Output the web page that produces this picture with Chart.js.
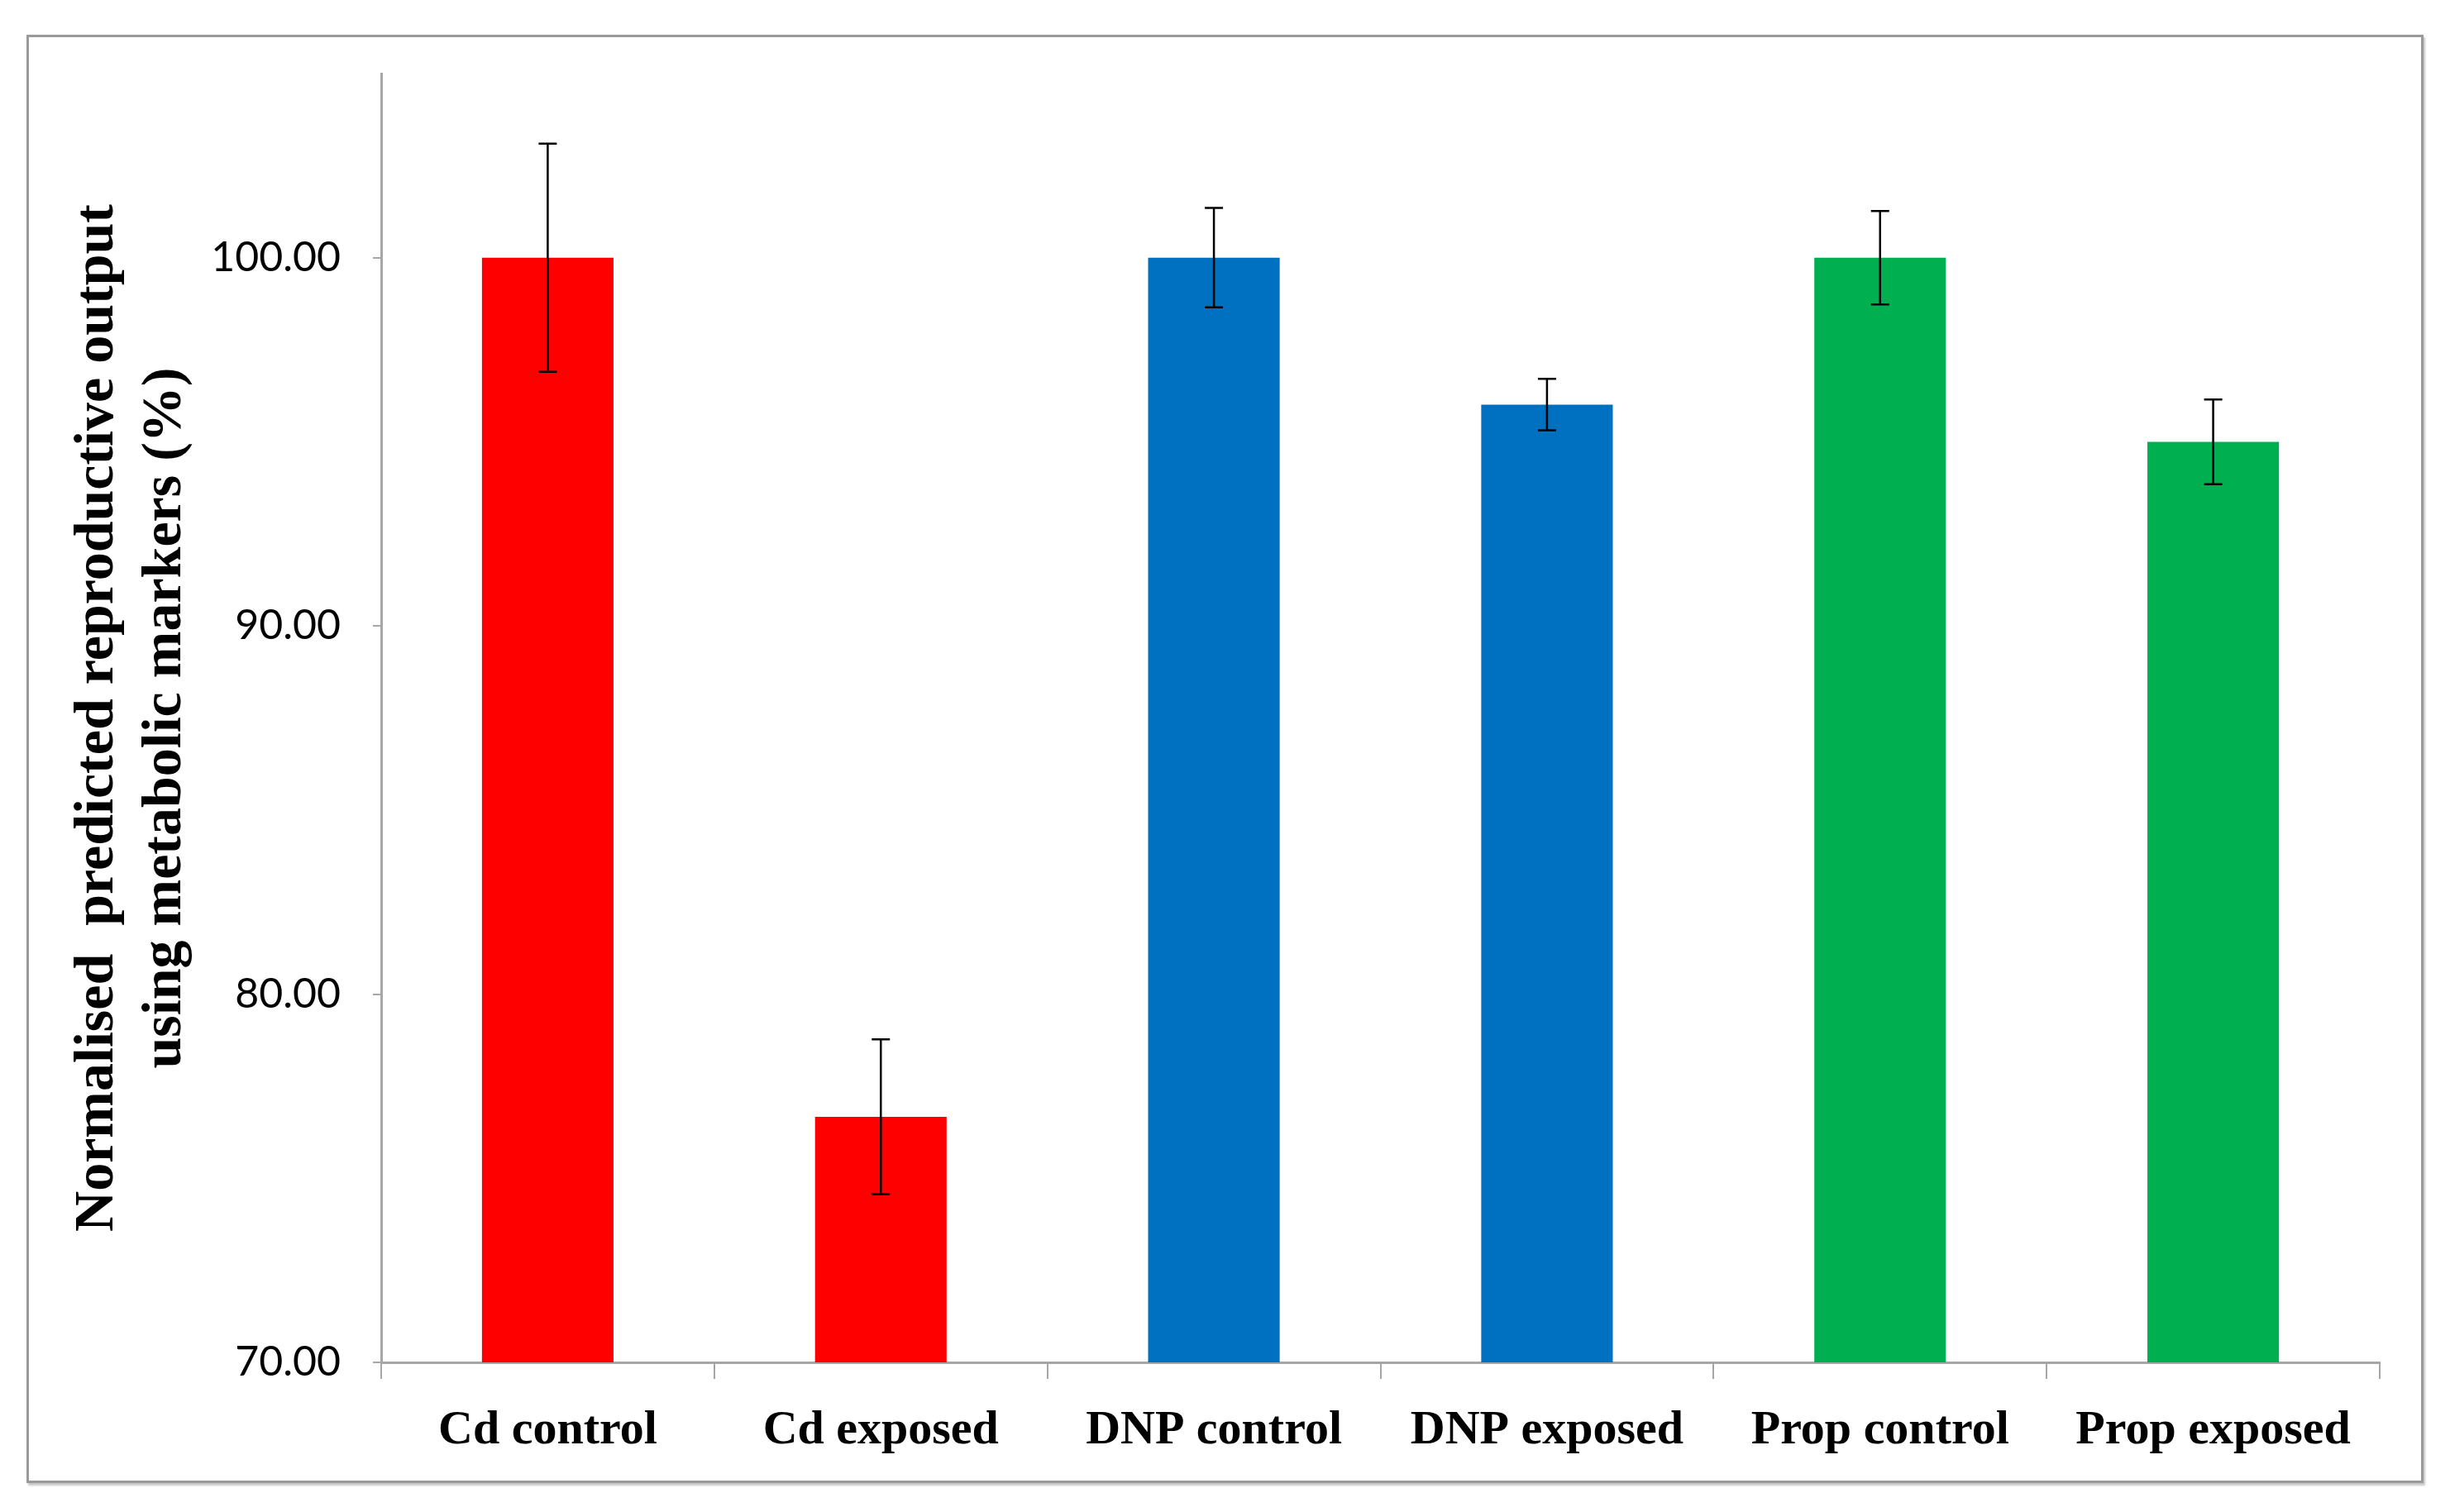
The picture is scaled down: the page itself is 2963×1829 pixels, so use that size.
<!DOCTYPE html>
<html>
<head>
    <title>Normalised predicted reproductive output</title>
    <script src="https://cdn.jsdelivr.net/npm/chart.js"></script>
    <style>
        body { margin: 0; background: #fff; }
        #moldura {
            position: absolute; left: 32px; top: 42px; width: 2899px; height: 1752px;
            box-sizing: border-box; border: 3px solid #9a9a9a;
            box-shadow: 2px 3px 2px #c8c8c8;
        }
        #grafico { position: absolute; left: 0; top: 0; }
    </style>
</head>
<body>
    <div id="moldura"></div>
    <canvas id="grafico" width="2963" height="1829"></canvas>

    <script>
        // Dados
        const categorias = ['Cd control', 'Cd exposed', 'DNP control', 'DNP exposed', 'Prop control', 'Prop exposed'];
        const valores = [100.00, 76.67, 100.00, 96.01, 100.00, 95.00];
        const erros = [3.10, 2.10, 1.35, 0.70, 1.27, 1.15];
        const cores = ['#FF0000', '#FF0000', '#0070C0', '#0070C0', '#00B050', '#00B050'];
        const tituloY = ['Normalised  predicted reproductive output', 'using metabolic markers (%)'];

        // Barras de erro desenhadas por cima das barras
        const barrasErro = {
            id: 'barrasErro',
            afterDatasetsDraw(chart) {
                const ctx = chart.ctx;
                const y = chart.scales.y;
                const meta = chart.getDatasetMeta(0);
                ctx.save();
                ctx.strokeStyle = '#000';
                ctx.lineWidth = 2.5;
                meta.data.forEach((barra, i) => {
                    const topo = y.getPixelForValue(valores[i] + erros[i]);
                    const base = y.getPixelForValue(valores[i] - erros[i]);
                    ctx.beginPath();
                    ctx.moveTo(barra.x, topo); ctx.lineTo(barra.x, base);
                    ctx.moveTo(barra.x - 11, topo); ctx.lineTo(barra.x + 11, topo);
                    ctx.moveTo(barra.x - 11, base); ctx.lineTo(barra.x + 11, base);
                    ctx.stroke();
                });
                ctx.restore();
            }
        };

        const ctx = document.getElementById('grafico').getContext('2d');
        const myChart = new Chart(ctx, {
            type: 'bar',
            data: {
                labels: categorias,
                datasets: [{
                    data: valores,
                    backgroundColor: cores,
                    borderWidth: 0,
                    barPercentage: 0.395,
                    categoryPercentage: 1.0
                }]
            },
            options: {
                responsive: false,
                animation: false,
                devicePixelRatio: 1,
                layout: { padding: { top: 89, right: 85, left: 0, bottom: 0 } },
                plugins: {
                    legend: { display: false },
                    tooltip: { enabled: false }
                },
                scales: {
                    x: {
                        afterFit: s => { s.height = 181; },
                        grid: { offset: true, drawOnChartArea: false, drawTicks: true, tickLength: 20, color: '#a6a6a6', lineWidth: 2 },
                        border: { color: '#a6a6a6', width: 3 },
                        ticks: {
                            color: '#000',
                            padding: 28,
                            maxRotation: 0,
                            font: { family: "'Liberation Serif', serif", weight: 'bold', size: 58 }
                        }
                    },
                    y: {
                        min: 70,
                        max: 105,
                        afterFit: s => { s.width = 461; },
                        afterBuildTicks: s => { s.ticks = s.ticks.filter(t => t.value <= 100); },
                        grid: { drawOnChartArea: false, drawTicks: true, tickLength: 10, color: '#a6a6a6', lineWidth: 2 },
                        border: { color: '#a6a6a6', width: 3 },
                        ticks: {
                            stepSize: 10,
                            color: '#000',
                            padding: 39,
                            font: { family: "Lato, 'Open Sans', sans-serif", size: 50 },
                            callback: v => Number(v).toFixed(2)
                        },
                        title: {
                            display: true,
                            text: tituloY,
                            color: '#000',
                            padding: { top: 78, bottom: 0 },
                            font: { family: "'Liberation Serif', serif", weight: 'bold', size: 68, lineHeight: 1.2 }
                        }
                    }
                }
            },
            plugins: [barrasErro]
        });
    </script>
</body>
</html>
